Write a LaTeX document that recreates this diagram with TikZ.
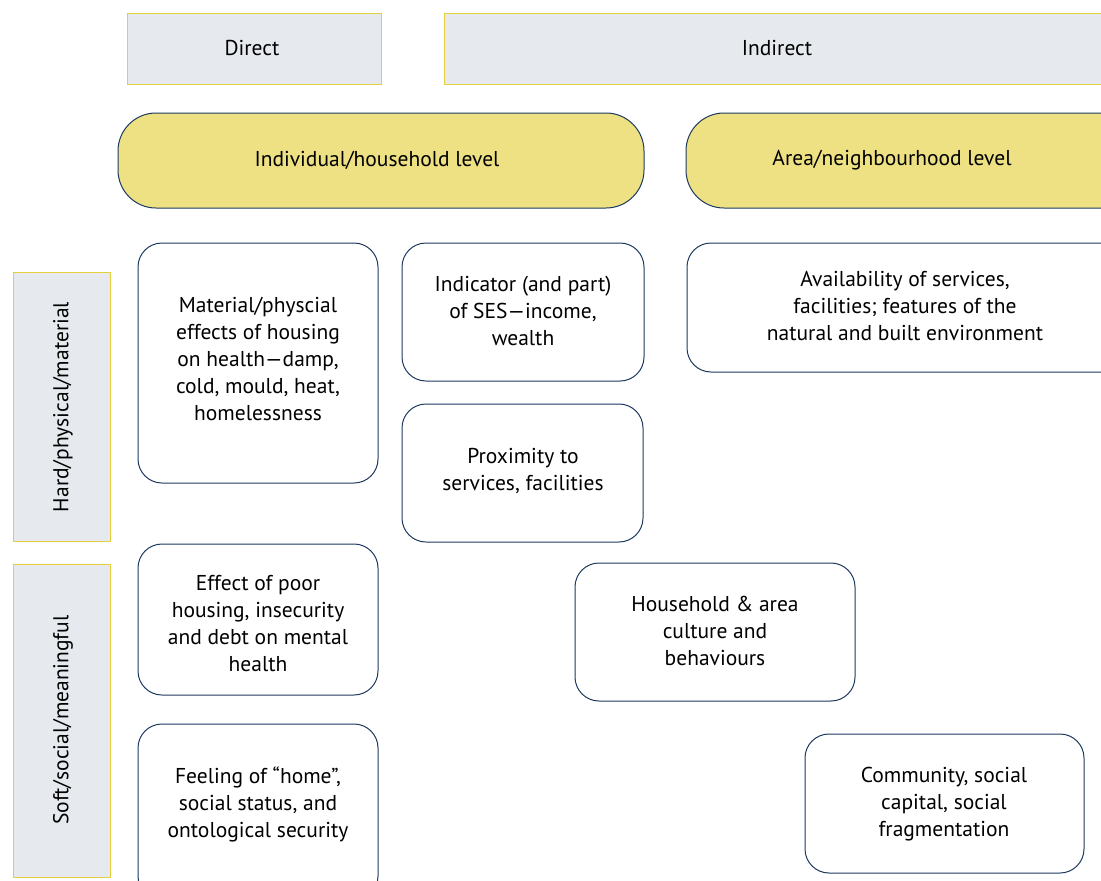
\documentclass[tikz,border=0pt]{standalone}
\usepackage{fontspec}
\setmainfont{PT Sans}
\definecolor{grayfill}{HTML}{E6E9ED}
\definecolor{yellowline}{HTML}{E3D03C}
\definecolor{yellowfill}{HTML}{EEE183}
\definecolor{navy}{HTML}{1E3A60}
\begin{document}
\begin{tikzpicture}[x=1pt,y=-1pt,
  hdr/.style={draw=yellowline,fill=grayfill,line width=1pt},
  lvl/.style={draw=navy,fill=yellowfill,line width=1pt,rounded corners=38pt},
  item/.style={draw=navy,fill=white,line width=1pt,rounded corners=24pt},
  txt/.style={align=center,inner sep=0pt,font=\fontsize{21.5}{27}\selectfont}]
\useasboundingbox (0,0) rectangle (1101,881);
\clip (0,0) rectangle (1101,881);
% headers
\draw[hdr] (127,13) rectangle (381,84);
\node[txt] (direct) at (252,48) {Direct};
\draw[hdr] (444,13) rectangle (1120,84);
\node[txt] (indirect) at (777,48) {Indirect};
% levels
\draw[lvl] (118,113) rectangle (644,208);
\node[txt] (indiv) at (377,160) {Individual/household level};
\draw[lvl] (686,113) rectangle (1140,208);
\node[txt] (area) at (892,160) {Area/neighbourhood level};
% side labels
\draw[hdr] (13,272) rectangle (110,541);
\node[txt,rotate=90] (hard) at (63,407) {Hard/physical/material};
\draw[hdr] (13,564) rectangle (110,877);
\node[txt,rotate=90] (soft) at (63,720) {Soft/social/meaningful};
% items
\draw[item] (138,243) rectangle (378,483);
\node[txt] (material) at (258,359) {Material/physcial\\effects of housing\\on health---damp,\\cold, mould, heat,\\homelessness};
\draw[item] (402,243) rectangle (644,381);
\node[txt] (ses) at (523,311) {Indicator (and part)\\of SES---income,\\wealth};
\draw[item] (402,404) rectangle (643,542);
\node[txt] (prox) at (523,471) {Proximity to\\services, facilities};
\draw[item] (687,243) rectangle (1125,372);
\node[txt] (avail) at (905,306) {Availability of services,\\facilities; features of the\\natural and built environment};
\draw[item] (138,544) rectangle (378,695);
\node[txt] (effect) at (258,624) {Effect of poor\\housing, insecurity\\and debt on mental\\health};
\draw[item] (138,724) rectangle (378,900);
\node[txt] (feeling) at (258,804) {Feeling of ``home'',\\social status, and\\ontological security};
\draw[item] (575,563) rectangle (855,701);
\node[txt] (culture) at (715,631) {Household \& area\\culture and\\behaviours};
\draw[item] (805,734) rectangle (1084,873);
\node[txt] (community) at (944,804) {Community, social\\capital, social\\fragmentation};
\end{tikzpicture}
\end{document}
